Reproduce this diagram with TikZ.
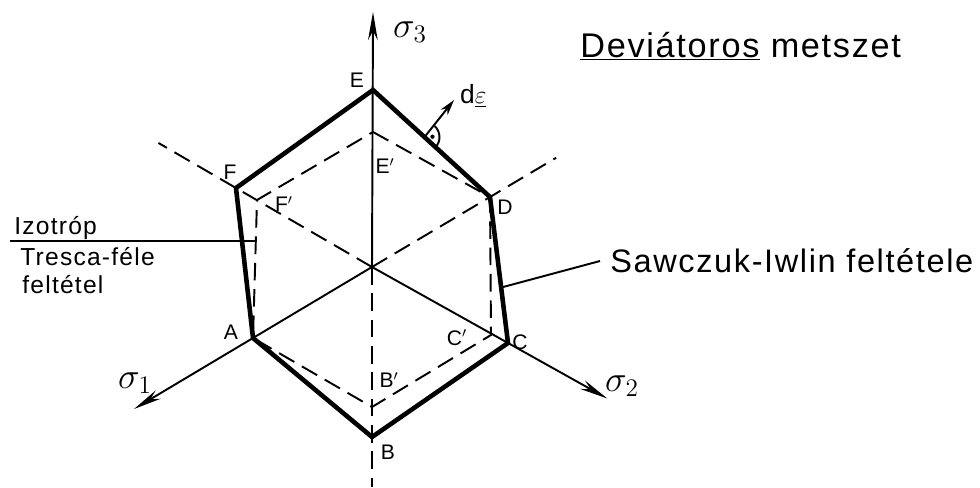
\documentclass[tikz,border=0pt]{standalone}
\usepackage{fontspec}
\setmainfont{Liberation Sans}[LetterSpace=5]
\usetikzlibrary{arrows.meta,calc}

\tikzset{
  outline/.style={line width=2.6pt},
  axisline/.style={line width=1.1pt},
  dashline/.style={line width=1.1pt, dash pattern=on 10pt off 5pt},
  axisarrow/.style={-{Stealth[length=16pt,width=5.5pt]}},
  vlabel/.style={font=\fontsize{12}{14}\selectfont, inner sep=1pt},
  siglabel/.style={font=\fontsize{21}{24}\selectfont, inner sep=1pt},
  bigtext/.style={font=\fontsize{19.5}{23}\selectfont, inner sep=0pt, anchor=base west},
  midtext/.style={font=\fontsize{14}{17}\selectfont, inner sep=0pt, anchor=base west},
}

\begin{document}
\begin{tikzpicture}[x=0.02cm,y=-0.02cm]
            \useasboundingbox (0,0) rectangle (980,487);

            % points of the section
            \coordinate (O) at (372,267);
            \coordinate (E) at (373,90);
            \coordinate (D) at (490,197);
            \coordinate (C) at (508,343);
            \coordinate (B) at (372,437);
            \coordinate (A) at (253,338);
            \coordinate (F) at (236,188);
            \coordinate (Ep) at (373,132);
            \coordinate (Cp) at (491,335);
            \coordinate (Bp) at (372,407);
            \coordinate (Fp) at (257,200);

            % axes
            \coordinate (s3) at (373,12);
            \coordinate (s1) at ($(O)!2.0!(A)$);
            \coordinate (s2) at ($(O)!1.73!(C)$);
            \coordinate (bot) at (372,487);
            \coordinate (ul) at ($(O)!1.57!(F)$);
            \coordinate (ur) at ($(O)!1.56!(D)$);

            \draw[axisline,axisarrow] (O) -- (s3);
            \draw[axisline,axisarrow] (O) -- (s1);
            \draw[axisline,axisarrow] (O) -- (s2);
            \draw[dashline] (O) -- (bot);
            \draw[dashline] (O) -- (ul);
            \draw[dashline] (O) -- (ur);

            % Tresca hexagon
            \draw[dashline] (Ep) -- (D) -- (Cp) -- (Bp) -- (A) -- (Fp) -- cycle;

            % Sawczuk-Iwlin
            \draw[outline] (E) -- (D) -- (C) -- (B) -- (A) -- (F) -- cycle;

            % normal
            \coordinate (ft) at ($(E)!0.44!(D)$);
            \coordinate (de) at (454,100);
            \draw[axisline,-{Stealth[length=9pt,width=5pt]}] (ft) -- (de);
            \draw[axisline] (ft) ++(-47.6:15) arc[start angle=-47.6, end angle=42.4, radius=15];
            \fill (ft) ++(-2.6:8) circle[radius=1.2pt];
            \node[vlabel, font=\fontsize{15}{17}\selectfont, anchor=west] (dlab) at (458,96) {d$\underline{\varepsilon}$};

            % vertex labels
            \node[vlabel] (lE) at (357,80) {E};
            \node[vlabel] (lEp) at (385,166) {E$'$};
            \node[vlabel] (lF) at (230,172) {F};
            \node[vlabel] (lFp) at (284,204) {F$'$};
            \node[vlabel] (lD) at (505,207) {D};
            \node[vlabel] (lC) at (520,342) {C};
            \node[vlabel] (lCp) at (457,338) {C$'$};
            \node[vlabel] (lB) at (388,452) {B};
            \node[vlabel] (lBp) at (389,380) {B$'$};
            \node[vlabel] (lA) at (231,332) {A};

            \node[siglabel] (l3) at (410,32) {$\sigma_3$};
            \node[siglabel] (l1) at (135,383) {$\sigma_1$};
            \node[siglabel] (l2) at (622,386) {$\sigma_2$};

            % texts
            \node[bigtext] (title) at (580,57) {\underline{Deviátoros} metszet};
            \node[bigtext, font=\fontsize{18.5}{22}\selectfont] (saw) at (610,272) {Sawczuk-Iwlin feltétele};
            \coordinate (sawp) at ($(D)!0.62!(C)$);
            \draw[axisline] (sawp) -- (600,261);

            \node[midtext] (izo) at (14,234) {Izotróp};
            \node[midtext] (tre) at (20,265) {Tresca-féle};
            \node[midtext] (fel) at (22,293) {feltétel};
            \coordinate (izl) at (10,0);
            \coordinate (izp) at ($(Fp)!0.3!(A)$);
            \draw[axisline] (izp) -- (izp -| izl);
        \end{tikzpicture}
\end{document}
